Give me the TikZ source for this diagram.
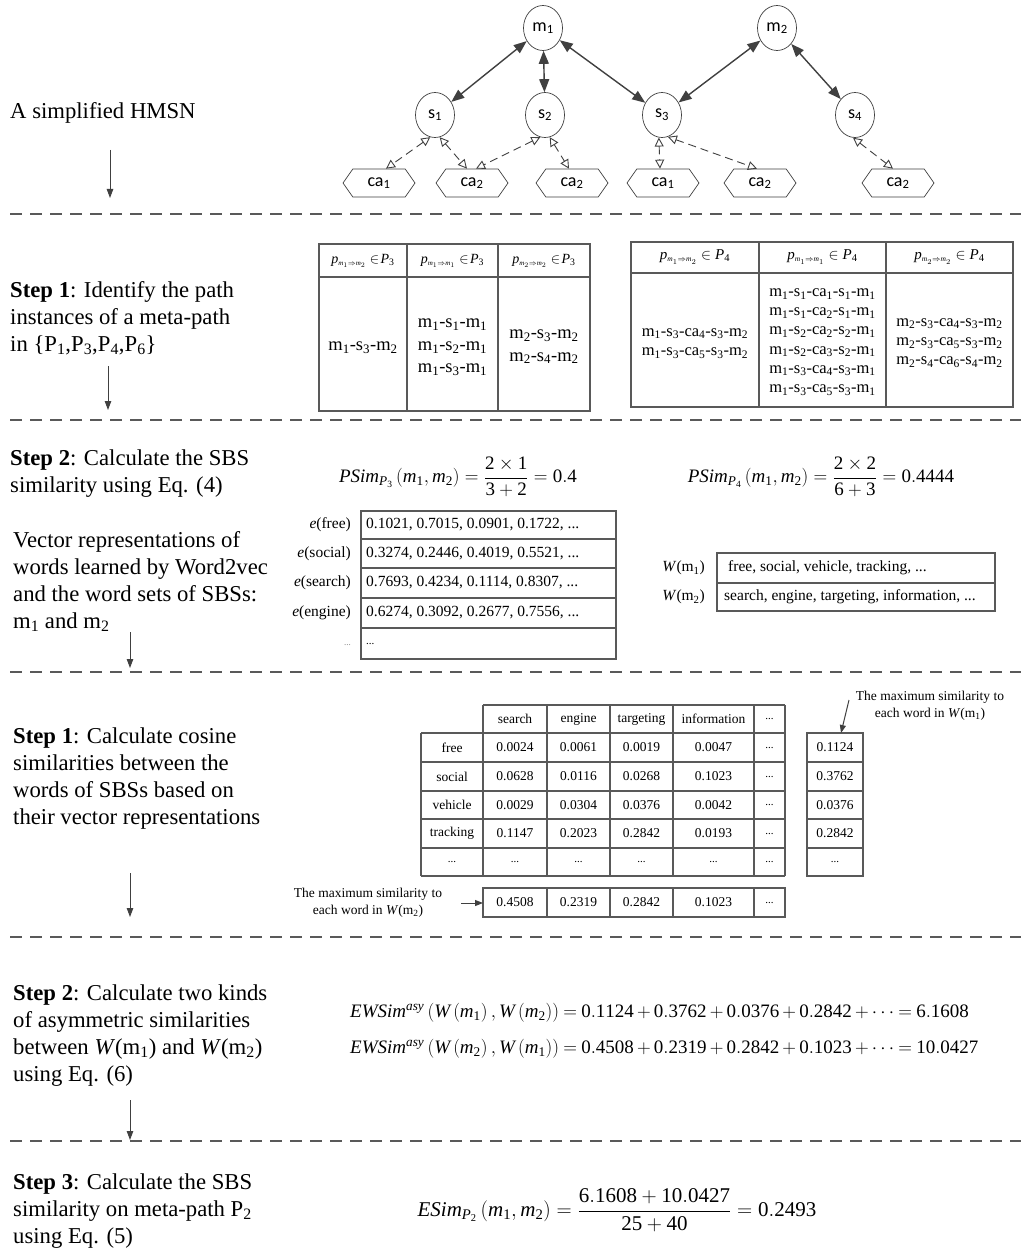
\RequirePackage{fix-cm}
\documentclass[tikz,border=0pt]{standalone}
\usepackage{amsmath}
\usepackage{fontspec}
\setmainfont{Liberation Serif}
\newfontfamily\nodefont{Carlito}
\usetikzlibrary{arrows.meta,shapes.geometric,shapes.symbols}
\newcommand\subs[1]{\textsubscript{#1}}
\newcommand\mi[1]{\mathit{#1}}
\newcommand\nm[1]{\mathrm{#1}}
\newcommand\tightmath{\medmuskip=3mu\relax\thickmuskip=4mu\relax}
\newcommand\dd{{\fontsize{11}{13}\selectfont ...}}
\definecolor{lc}{HTML}{404040}
\definecolor{gc}{HTML}{595959}
\tikzset{
  lefttext/.style={anchor=west, align=left, inner sep=0pt, font=\fontsize{22.7}{27}\selectfont},
  stepdown/.style={draw=lc, line width=0.9pt, -{Triangle[length=9pt,width=6.5pt]}},
  sepline/.style={draw=gc, line width=1.2pt, dash pattern=on 12pt off 8pt},
  mnode/.style={ellipse, draw=lc, line width=0.7pt, minimum width=39pt, minimum height=45pt, inner sep=0pt, font=\nodefont\fontsize{18}{20}\selectfont},
  canode/.style={signal, signal from=nowhere, signal to=east and west, signal pointer angle=110, draw=lc, line width=0.7pt, minimum width=72pt, minimum height=28pt, inner sep=0pt, font=\nodefont\fontsize{18}{20}\selectfont},
  solidlink/.style={draw=lc, line width=1.4pt, {Triangle[length=13pt,width=10pt]}-{Triangle[length=13pt,width=10pt]}},
  dashlink/.style={draw=lc, line width=0.9pt, dash pattern=on 8pt off 5pt, {Triangle[open,length=9pt,width=9pt]}-{Triangle[open,length=9pt,width=9pt]}},
  tabline/.style={draw=gc, line width=1.1pt},
  taba/.style={inner sep=0pt, align=center, font=\fontsize{18.5}{22.5}\selectfont},
  tabahead/.style={inner sep=0pt, font=\fontsize{14}{16}\selectfont},
  tabb/.style={inner sep=0pt, align=center, font=\fontsize{16.5}{19.2}\selectfont},
  tabbhead/.style={inner sep=0pt, font=\fontsize{15}{17}\selectfont},
  vectext/.style={inner sep=0pt, font=\fontsize{15.5}{18}\selectfont},
  costext/.style={inner sep=0pt, font=\fontsize{13.5}{17}\selectfont},
  eqtext/.style={inner sep=0pt, font=\fontsize{19}{23}\selectfont},
  pointer/.style={draw=lc, line width=1pt, -{Triangle[length=8pt,width=6pt]}},
}
\begin{document}
\begin{tikzpicture}[x=1pt,y=-1pt]
\useasboundingbox[fill=white] (0,0) rectangle (1021,1252);

% ---------- separators
\foreach \y in {214,420,672,937,1141} \draw[sepline] (10,\y) -- (1021,\y);

% ---------- graph
\node[mnode] (m1) at (543,28) {m\subs{1}};
\node[mnode] (m2) at (777,28) {m\subs{2}};
\node[mnode] (s1) at (435,115) {s\subs{1}};
\node[mnode] (s2) at (545,115) {s\subs{2}};
\node[mnode] (s3) at (662,115) {s\subs{3}};
\node[mnode] (s4) at (855,115) {s\subs{4}};
\node[canode] (c1) at (379,183) {ca\subs{1}};
\node[canode] (c2) at (472,183) {ca\subs{2}};
\node[canode] (c3) at (572,183) {ca\subs{2}};
\node[canode] (c4) at (663,183) {ca\subs{1}};
\node[canode] (c5) at (760,183) {ca\subs{2}};
\node[canode] (c6) at (898,183) {ca\subs{2}};
\draw[solidlink] (m1) -- (s1);
\draw[solidlink] (m1) -- (s2);
\draw[solidlink] (m1) -- (s3);
\draw[solidlink] (m2) -- (s3);
\draw[solidlink] (m2) -- (s4);
\draw[dashlink] (s1.258) -- ([xshift=7pt]c1.north);
\draw[dashlink] (s1.282) -- ([xshift=-5pt]c2.north);
\draw[dashlink] (s2.258) -- ([xshift=4pt]c2.north);
\draw[dashlink] (s2.282) -- ([xshift=-3pt]c3.north);
\draw[dashlink] (s3.262) -- ([xshift=-3pt]c4.north);
\draw[dashlink] (s3.285) -- ([xshift=-3pt]c5.north);
\draw[dashlink] (s4.265) -- ([xshift=-5pt]c6.north);

% ---------- left column
\node[lefttext] (hmsn) at (10,113) {A simplified HMSN};
\coordinate (a0s) at (110,150); \coordinate (a0e) at (110,198);
\draw[stepdown] (a0s) -- (a0e);
\node[lefttext] (t1) at (10,318) {\textbf{Step 1}: Identify the path\\instances of a meta-path\\in \{P\subs{1},P\subs{3},P\subs{4},P\subs{6}\}};
\coordinate (a1s) at (108,366); \coordinate (a1e) at (108,410);
\draw[stepdown] (a1s) -- (a1e);
\node[lefttext] (t2) at (10,473.5) {\textbf{Step 2}: Calculate the SBS\\similarity using Eq. (4)};
\node[lefttext] (t3) at (13,581.5) {Vector representations of\\words learned by Word2vec\\and the word sets of SBSs:\\m\subs{1} and m\subs{2}};
\coordinate (a2s) at (130,632); \coordinate (a2e) at (130,668);
\draw[stepdown] (a2s) -- (a2e);
\node[lefttext] (t4) at (13,778.5) {\textbf{Step 1}: Calculate cosine\\similarities between the\\words of SBSs based on\\their vector representations};
\coordinate (a3s) at (130,873); \coordinate (a3e) at (130,917);
\draw[stepdown] (a3s) -- (a3e);
\node[lefttext] (t5) at (13,1035.5) {\textbf{Step 2}: Calculate two kinds\\of asymmetric similarities\\between \textit{W}(m\subs{1}) and \textit{W}(m\subs{2})\\using Eq. (6)};
\coordinate (a4s) at (130,1100); \coordinate (a4e) at (130,1140);
\draw[stepdown] (a4s) -- (a4e);
\node[lefttext] (t6) at (13,1211) {\textbf{Step 3}: Calculate the SBS\\similarity on meta-path P\subs{2}\\using Eq. (5)};

% ---------- table 1 (P3)
\draw[tabline] (319,244) rectangle (590,411);
\draw[tabline] (319,277) -- (590,277);
\draw[tabline] (407,244) -- (407,411);
\draw[tabline] (498,244) -- (498,411);
\node[tabahead] (ta1) at (363,261) {$\mi{p}_{\scriptscriptstyle\mi{m}_1\Rightarrow\mi{m}_2}\in\!\mi{P}_{\nm{3}}$};
\node[tabahead] (ta2) at (452.5,261) {$\mi{p}_{\scriptscriptstyle\mi{m}_1\Rightarrow\mi{m}_1}\in\!\mi{P}_{\nm{3}}$};
\node[tabahead] (ta3) at (544,261) {$\mi{p}_{\scriptscriptstyle\mi{m}_2\Rightarrow\mi{m}_2}\in\!\mi{P}_{\nm{3}}$};
\node[taba] (tb1) at (363,348) {m\subs{1}-s\subs{3}-m\subs{2}};
\node[taba] (tb2) at (452.5,347.5) {m\subs{1}-s\subs{1}-m\subs{1}\\m\subs{1}-s\subs{2}-m\subs{1}\\m\subs{1}-s\subs{3}-m\subs{1}};
\node[taba] (tb3) at (544,347) {m\subs{2}-s\subs{3}-m\subs{2}\\m\subs{2}-s\subs{4}-m\subs{2}};

% ---------- table 2 (P4)
\draw[tabline] (631,242) rectangle (1013,407);
\draw[tabline] (631,273) -- (1013,273);
\draw[tabline] (759,242) -- (759,407);
\draw[tabline] (886,242) -- (886,407);
\node[tabbhead] (tc1) at (695,257) {$\mi{p}_{\scriptscriptstyle\mi{m}_1\Rightarrow\mi{m}_2}\in\mi{P}_{\nm{4}}$};
\node[tabbhead] (tc2) at (822.5,257) {$\mi{p}_{\scriptscriptstyle\mi{m}_1\Rightarrow\mi{m}_1}\in\mi{P}_{\nm{4}}$};
\node[tabbhead] (tc3) at (949.5,257) {$\mi{p}_{\scriptscriptstyle\mi{m}_2\Rightarrow\mi{m}_2}\in\mi{P}_{\nm{4}}$};
\node[tabb] (td1) at (695,343.5) {m\subs{1}-s\subs{3}-ca\subs{4}-s\subs{3}-m\subs{2}\\m\subs{1}-s\subs{3}-ca\subs{5}-s\subs{3}-m\subs{2}};
\node[tabb] (td2) at (822.5,342) {m\subs{1}-s\subs{1}-ca\subs{1}-s\subs{1}-m\subs{1}\\m\subs{1}-s\subs{1}-ca\subs{2}-s\subs{1}-m\subs{1}\\m\subs{1}-s\subs{2}-ca\subs{2}-s\subs{2}-m\subs{1}\\m\subs{1}-s\subs{2}-ca\subs{3}-s\subs{2}-m\subs{1}\\m\subs{1}-s\subs{3}-ca\subs{4}-s\subs{3}-m\subs{1}\\m\subs{1}-s\subs{3}-ca\subs{5}-s\subs{3}-m\subs{1}};
\node[tabb] (td3) at (949.5,343) {m\subs{2}-s\subs{3}-ca\subs{4}-s\subs{3}-m\subs{2}\\m\subs{2}-s\subs{3}-ca\subs{5}-s\subs{3}-m\subs{2}\\m\subs{2}-s\subs{4}-ca\subs{6}-s\subs{4}-m\subs{2}};

% ---------- PSim equations
\node[eqtext] (psim3) at (458,477) {$\mi{PSim}_{\mi{P}_{\nm{3}}}\left(\mi{m}_{\nm{1}},\mi{m}_{\nm{2}}\right)=\dfrac{\nm{2}\times \nm{1}}{\nm{3}+\nm{2}}=\nm{0.4}$};
\node[eqtext] (psim4) at (821,477) {$\mi{PSim}_{\mi{P}_{\nm{4}}}\left(\mi{m}_{\nm{1}},\mi{m}_{\nm{2}}\right)=\dfrac{\nm{2}\times \nm{2}}{\nm{6}+\nm{3}}=\nm{0.4444}$};

% ---------- vector table
\draw[tabline] (361,511) rectangle (616,659);
\foreach \y in {539,568,598,628} \draw[tabline] (361,\y) -- (616,\y);
\foreach \y/\w/\v [count=\i] in {525/free/{0.1021, 0.7015, 0.0901, 0.1722, ...},553.5/social/{0.3274, 0.2446, 0.4019, 0.5521, ...},583/search/{0.7693, 0.4234, 0.1114, 0.8307, ...},613/engine/{0.6274, 0.3092, 0.2677, 0.7556, ...}}{
  \node[vectext, anchor=east] (el\i) at (351,\y) {\textit{e}(\w)};
  \node[vectext, anchor=west] (ev\i) at (366,\y) {\v};
}
\node[vectext, anchor=east, text=gray] (el5) at (351,645) {\fontsize{9}{10}\selectfont ...};
\node[vectext, anchor=west] (ev5) at (366,644) {\dd};

% ---------- W table
\draw[tabline] (717,553) rectangle (995,611);
\draw[tabline] (717,583) -- (995,583);
\node[vectext, anchor=east] (wl1) at (705,568) {\textit{W}(m\subs{1})};
\node[vectext, anchor=east] (wl2) at (705,597) {\textit{W}(m\subs{2})};
\node[vectext, anchor=west] (wv1) at (728,568) {free, social, vehicle, tracking, ...};
\node[vectext, anchor=west] (wv2) at (724,597) {search, engine, targeting, information, ...};

% ---------- cosine table
\draw[tabline] (483,705) -- (785,705);
\foreach \y in {733,762,791,819,848,876} \draw[tabline] (421,\y) -- (785,\y);
\draw[tabline] (421,733) -- (421,876);
\foreach \x in {483,547,610,673,754,785} \draw[tabline] (\x,705) -- (\x,876);
\foreach \x/\t [count=\i] in {515/search,578.5/engine,641.5/targeting,713.5/information,769.5/\dd}
  \node[costext] (h\i) at (\x,719) {\t};
\foreach \y/\a/\b/\c/\d/\e/\f/\r [count=\i] in {
  747.5/free/0.0024/0.0061/0.0019/0.0047/\dd/0.1124,
  776.5/social/0.0628/0.0116/0.0268/0.1023/\dd/0.3762,
  805/vehicle/0.0029/0.0304/0.0376/0.0042/\dd/0.0376,
  833.5/tracking/0.1147/0.2023/0.2842/0.0193/\dd/0.2842,
  862/\dd/\dd/\dd/\dd/\dd/\dd/\dd}{
  \node[costext] (r\i-a) at (452,\y) {\a};
  \node[costext] (r\i-b) at (515,\y) {\b};
  \node[costext] (r\i-c) at (578.5,\y) {\c};
  \node[costext] (r\i-d) at (641.5,\y) {\d};
  \node[costext] (r\i-e) at (713.5,\y) {\e};
  \node[costext] (r\i-f) at (769.5,\y) {\f};
  \node[costext] (r\i-m) at (835,\y) {\r};
}
% right column
\draw[tabline] (807,733) rectangle (863,876);
\foreach \y in {762,791,819,848} \draw[tabline] (807,\y) -- (863,\y);
% bottom row
\draw[tabline] (483,888) rectangle (785,917);
\foreach \x in {547,610,673,754} \draw[tabline] (\x,888) -- (\x,917);
\foreach \x/\t [count=\i] in {515/0.4508,578.5/0.2319,641.5/0.2842,713.5/0.1023,769.5/\dd}
  \node[costext] (b\i) at (\x,902.5) {\t};
% annotations
\node[costext, align=center] (maxm1) at (930,706) {The maximum similarity to\\each word in \textit{W}(m\subs{1})};
\coordinate (p1s) at (849,700); \coordinate (p1e) at (841,733);
\draw[pointer] (p1s) -- (p1e);
\node[costext, align=center] (maxm2) at (368,903) {The maximum similarity to\\each word in \textit{W}(m\subs{2})};
\coordinate (p2s) at (461,903); \coordinate (p2e) at (483,903);
\draw[pointer] (p2s) -- (p2e);

% ---------- EWSim equations
\node[eqtext, anchor=west] (ew1) at (350,1013) {$\tightmath\mi{EWSim}^{\mi{asy}}\left(\mi{W}\left(\mi{m}_{\nm{1}}\right),\mi{W}\left(\mi{m}_{\nm{2}}\right)\right)=\nm{0.1124}+\nm{0.3762}+\nm{0.0376}+\nm{0.2842}+\cdots=\nm{6.1608}$};
\node[eqtext, anchor=west] (ew2) at (350,1049) {$\tightmath\mi{EWSim}^{\mi{asy}}\left(\mi{W}\left(\mi{m}_{\nm{2}}\right),\mi{W}\left(\mi{m}_{\nm{1}}\right)\right)=\nm{0.4508}+\nm{0.2319}+\nm{0.2842}+\nm{0.1023}+\cdots=\nm{10.0427}$};

% ---------- ESim equation
\node[eqtext, font=\fontsize{21}{25}\selectfont] (esim) at (617,1210) {$\mi{ESim}_{\mi{P}_{\nm{2}}}\left(\mi{m}_{\nm{1}},\mi{m}_{\nm{2}}\right)=\dfrac{\nm{6.1608}+\nm{10.0427}}{\nm{25}+\nm{40}}=\nm{0.2493}$};
\end{tikzpicture}
\end{document}
